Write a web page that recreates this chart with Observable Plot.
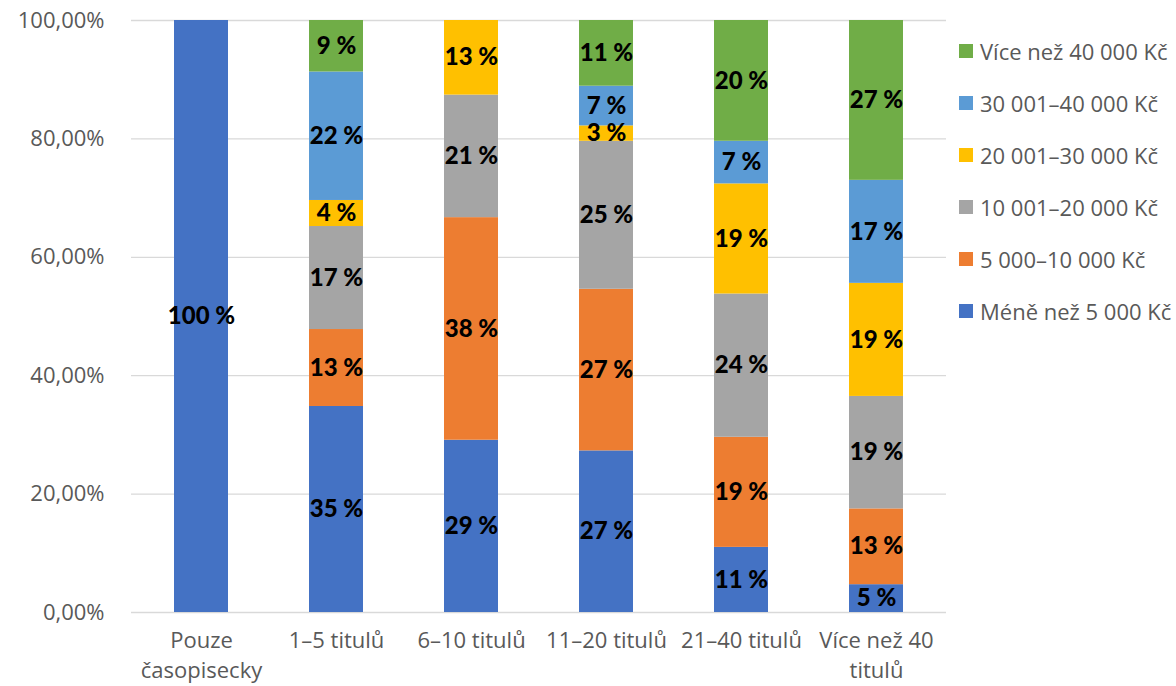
<!DOCTYPE html>
<html>
<head>
<meta charset="utf-8">
<script src="https://cdn.jsdelivr.net/npm/d3@7"></script>
<script src="https://cdn.jsdelivr.net/npm/@observablehq/plot@0.6"></script>
<style>
  html, body { margin: 0; padding: 0; background: white; }
  #wrap { position: relative; width: 1176px; height: 686px; overflow: hidden; }
  #legend { position: absolute; left: 959px; top: 25px; font-family: 'Open Sans', sans-serif; font-size: 22px; color: #595959; }
  .row { height: 52px; display: flex; align-items: center; white-space: nowrap; }
  .sw { width: 14px; height: 14px; margin-right: 7px; flex: none; }
</style>
</head>
<body>
<div id="wrap"><div id="legend"></div></div>
<script>
const categories = ["Pouze časopisecky", "1–5 titulů", "6–10 titulů", "11–20 titulů", "21–40 titulů", "Více než 40 titulů"];
const categoryLines = ["Pouze\nčasopisecky", "1–5 titulů", "6–10 titulů", "11–20 titulů", "21–40 titulů", "Více než 40\ntitulů"];
const bands = ["Méně než 5 000 Kč", "5 000–10 000 Kč", "10 001–20 000 Kč", "20 001–30 000 Kč", "30 001–40 000 Kč", "Více než 40 000 Kč"];
const colors = ["#4472C4", "#ED7D31", "#A5A5A5", "#FFC000", "#5B9BD5", "#70AD47"];

const below5000  = [100, 34.8, 29.1, 27.3, 11.0, 4.7];
const from5000   = [0, 13.0, 37.6, 27.3, 18.6, 12.8];
const from10001  = [0, 17.4, 20.7, 25.0, 24.2, 19.0];
const from20001  = [0, 4.4, 12.6, 2.6, 18.6, 19.1];
const from30001  = [0, 21.7, 0, 6.7, 7.2, 17.4];
const above40000 = [0, 8.7, 0, 11.1, 20.4, 27.0];
const yTicks = [0, 20, 40, 60, 80, 100];

const series = [below5000, from5000, from10001, from20001, from30001, above40000];
const rows = [];
series.forEach((vals, i) => vals.forEach((v, j) => {
  if (v > 0) rows.push({category: categories[j], band: bands[i], value: v});
}));

const chart = Plot.plot({
  width: 1176,
  height: 686,
  marginLeft: 131,
  marginRight: 230,
  marginTop: 20,
  marginBottom: 74,
  style: {fontFamily: "'Open Sans', sans-serif", fontSize: "22px", color: "#595959", background: "white", overflow: "visible"},
  x: {domain: categories, paddingInner: 0.6, paddingOuter: 0.3, label: null},
  y: {domain: [0, 100], ticks: yTicks, label: null},
  color: {domain: bands, range: colors},
  marks: [
    Plot.gridY(yTicks, {stroke: "#d9d9d9", strokeOpacity: 1, strokeWidth: 1.3}),
    Plot.barY(rows, Plot.stackY({x: "category", y: "value", z: "band", fill: "band", order: bands})),
    Plot.text(rows, Plot.stackY({
      x: "category", y: "value", z: "band", order: bands,
      text: d => Math.round(d.value) + " %",
      fontFamily: "Lato, sans-serif", fontWeight: "900", fontSize: 24, fill: "black"
    })),
    Plot.axisY({ticks: yTicks, tickSize: 0, tickPadding: 27, fontSize: 22,
      tickFormat: d => d.toFixed(2).replace(".", ",") + "%"}),
    Plot.axisX({tickSize: 0, tickPadding: 15, fontSize: 22, lineHeight: 1.34,
      tickFormat: d => categoryLines[categories.indexOf(d)]})
  ]
});
document.getElementById("wrap").prepend(chart);

const legend = document.getElementById("legend");
[...bands].reverse().forEach(b => {
  const row = document.createElement("div");
  row.className = "row";
  const sw = document.createElement("div");
  sw.className = "sw";
  sw.style.background = colors[bands.indexOf(b)];
  const t = document.createElement("span");
  t.textContent = b;
  row.append(sw, t);
  legend.append(row);
});
</script>
</body>
</html>
